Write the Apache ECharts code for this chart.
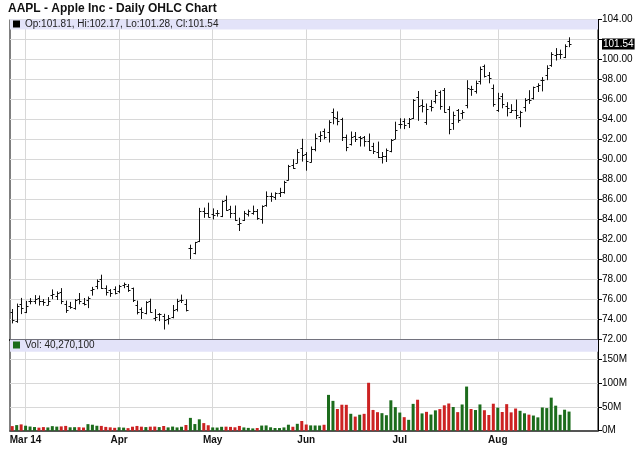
<!DOCTYPE html>
<html><head><meta charset="utf-8">
<script src="https://cdn.jsdelivr.net/npm/echarts@6/dist/echarts.min.js"></script>
<style>html,body{margin:0;padding:0;background:#fff;}#c{width:640px;height:468px;}</style>
</head><body><div id="c"></div>
<script>
const dates = [
'2014-02-26','2014-02-27','2014-02-28',
'2014-03-03','2014-03-04','2014-03-05','2014-03-06','2014-03-07','2014-03-10','2014-03-11','2014-03-12','2014-03-13','2014-03-14','2014-03-17','2014-03-18','2014-03-19','2014-03-20','2014-03-21','2014-03-24','2014-03-25','2014-03-26','2014-03-27','2014-03-28','2014-03-31',
'2014-04-01','2014-04-02','2014-04-03','2014-04-04','2014-04-07','2014-04-08','2014-04-09','2014-04-10','2014-04-11','2014-04-14','2014-04-15','2014-04-16','2014-04-17','2014-04-21','2014-04-22','2014-04-23','2014-04-24','2014-04-25','2014-04-28','2014-04-29','2014-04-30',
'2014-05-01','2014-05-02','2014-05-05','2014-05-06','2014-05-07','2014-05-08','2014-05-09','2014-05-12','2014-05-13','2014-05-14','2014-05-15','2014-05-16','2014-05-19','2014-05-20','2014-05-21','2014-05-22','2014-05-23','2014-05-27','2014-05-28','2014-05-29','2014-05-30',
'2014-06-02','2014-06-03','2014-06-04','2014-06-05','2014-06-06','2014-06-09','2014-06-10','2014-06-11','2014-06-12','2014-06-13','2014-06-16','2014-06-17','2014-06-18','2014-06-19','2014-06-20','2014-06-23','2014-06-24','2014-06-25','2014-06-26','2014-06-27','2014-06-30',
'2014-07-01','2014-07-02','2014-07-03','2014-07-07','2014-07-08','2014-07-09','2014-07-10','2014-07-11','2014-07-14','2014-07-15','2014-07-16','2014-07-17','2014-07-18','2014-07-21','2014-07-22','2014-07-23','2014-07-24','2014-07-25','2014-07-28','2014-07-29','2014-07-30','2014-07-31',
'2014-08-01','2014-08-04','2014-08-05','2014-08-06','2014-08-07','2014-08-08','2014-08-11','2014-08-12','2014-08-13','2014-08-14','2014-08-15','2014-08-18','2014-08-19','2014-08-20','2014-08-21','2014-08-22','2014-08-25'
];
const opens = [
74.74,73.88,75.58,
74.77,75.86,75.85,76.11,75.87,75.48,76.49,76.36,76.78,75.54,75.39,75.13,76.04,75.70,75.99,76.92,77.36,78.07,77.15,76.90,77.03,
76.82,77.48,77.34,77.12,75.43,75.03,74.66,75.81,74.14,74.56,74.32,74.01,74.29,75.05,75.97,75.58,81.18,80.65,81.83,84.82,84.66,
84.57,84.62,84.31,85.97,85.04,84.61,83.51,83.93,84.57,84.64,84.84,84.09,85.41,86.36,86.26,86.66,86.75,87.98,89.43,89.69,91.14,
90.57,89.78,91.06,92.31,92.84,92.70,94.73,94.13,94.04,92.20,91.51,92.31,92.27,92.29,91.85,91.32,90.75,90.21,90.37,90.82,92.10,
93.52,93.87,93.67,94.14,96.27,95.44,93.76,95.36,95.86,96.80,96.97,95.03,93.62,94.99,94.68,95.42,97.04,96.85,97.82,99.33,98.44,97.16,
94.90,96.37,95.36,94.75,94.93,94.26,95.27,96.04,96.15,97.33,97.90,98.49,99.41,100.44,100.57,100.29,101.81
];
const highs = [
75.00,75.54,76.11,
75.81,76.09,76.39,76.35,75.99,76.19,76.96,76.76,77.09,75.84,75.71,75.99,76.60,76.10,76.25,77.21,77.96,78.43,77.36,76.99,77.26,
77.41,77.64,77.50,77.14,75.84,75.16,75.78,76.03,74.99,74.59,74.52,74.40,75.40,76.02,76.44,75.97,81.43,81.71,85.11,85.14,85.63,
85.06,84.90,85.86,86.34,85.32,85.35,84.13,84.81,84.94,85.34,85.00,85.36,86.76,86.63,86.67,87.12,87.82,89.41,89.98,90.98,92.02,
90.69,91.25,92.55,92.77,93.04,93.88,95.05,94.76,94.12,92.44,92.75,92.70,92.29,92.30,92.55,91.62,91.74,90.70,91.05,92.00,93.73,
94.07,94.06,94.10,95.99,96.80,95.95,95.55,95.89,96.89,96.85,97.10,95.28,94.74,95.00,94.89,97.88,97.32,97.84,99.24,99.44,98.70,97.45,
96.62,96.58,95.68,95.48,95.95,94.82,96.08,96.88,97.24,97.57,98.19,99.37,100.68,101.09,100.94,101.47,102.17
];
const lows = [
73.66,73.72,74.59,
74.69,75.57,75.59,75.44,75.43,75.48,76.08,76.00,75.59,74.71,75.12,75.03,75.57,75.46,75.19,76.44,77.08,77.10,76.45,76.32,76.56,
76.68,77.18,76.81,75.80,74.56,74.10,74.57,74.74,73.89,73.89,73.05,73.55,74.17,74.85,75.70,74.86,80.10,80.57,81.79,84.22,84.26,
84.06,84.34,84.29,84.92,84.19,83.91,82.90,83.90,84.35,84.53,84.02,83.63,85.33,85.82,86.01,86.30,86.64,87.95,89.11,89.68,89.84,
88.93,89.75,90.87,91.80,92.07,91.75,93.57,93.47,91.90,90.88,91.45,91.80,91.35,91.34,90.90,90.60,90.19,89.65,89.80,90.77,92.09,
93.13,93.09,93.20,94.10,93.92,94.76,93.52,94.86,95.65,95.03,94.74,92.57,93.02,93.72,94.12,95.17,96.42,96.64,97.55,98.25,97.67,95.33,
94.81,95.17,94.36,94.71,94.10,93.28,94.84,95.61,96.04,96.80,96.86,97.98,99.32,99.95,100.11,100.19,101.28
];
const closes = [
73.91,75.38,75.18,
75.39,75.89,76.05,75.82,75.78,75.85,76.58,76.66,75.81,74.96,75.25,75.91,75.89,75.53,76.12,77.03,77.86,77.11,76.78,76.69,76.68,
77.38,77.51,76.97,75.97,74.78,74.78,75.76,74.78,74.23,74.53,73.99,74.14,74.99,75.88,75.96,74.96,81.11,81.71,84.87,84.62,84.30,
84.50,84.65,85.85,84.92,84.62,84.00,83.65,84.69,84.82,84.84,84.12,85.36,86.37,86.39,86.62,86.75,87.73,89.38,89.14,90.77,90.43,
89.81,91.08,92.12,92.48,92.22,93.70,94.25,93.86,92.29,91.28,92.20,92.08,92.18,91.86,90.91,90.83,90.28,90.36,90.90,91.98,92.93,
93.52,93.48,94.03,95.97,95.35,95.39,95.04,95.22,96.45,95.32,94.78,93.09,94.43,93.94,94.72,97.19,97.03,97.67,99.02,98.38,98.15,95.60,
96.13,95.59,95.12,94.96,94.48,94.74,95.99,95.97,97.24,97.50,97.98,99.16,100.53,100.57,100.58,101.32,101.54
];
// volume in millions of shares
const volumes = [
9.7,11.8,13.3,
10.5,8.8,7.7,6.5,7.6,6.9,9.6,8.6,9.1,10.1,7.2,7.4,7.4,6.7,13.8,12.6,10.4,10.1,8.0,7.1,6.1,
7.2,6.5,5.4,8.4,10.0,8.5,7.6,8.5,8.7,7.6,9.9,7.0,8.7,6.9,8.3,12.0,27.0,14.0,24.0,16.0,11.5,
6.9,6.6,8.2,8.5,8.0,7.2,10.0,6.9,5.9,4.8,5.7,10.8,11.1,7.2,5.7,5.6,6.9,12.6,8.3,14.5,20.4,
13.0,11.2,11.0,10.9,12.5,75.4,62.8,45.7,54.7,54.5,35.6,29.7,33.6,35.5,100.9,43.7,39.0,36.9,32.6,64.0,49.6,
38.2,28.5,22.9,56.5,65.2,36.4,39.7,34.0,42.8,45.5,53.4,57.3,49.9,39.1,55.2,92.9,45.7,43.5,55.3,43.1,33.0,56.8,
48.5,39.4,55.9,38.6,46.7,41.9,36.6,33.8,31.9,28.1,48.9,47.6,69.6,52.7,33.5,44.2,40.2701
];
const tickDates = ['2014-03-03','2014-04-01','2014-05-01','2014-06-02','2014-07-01','2014-08-01'];
const tickLabels = ['Mar 14','Apr','May','Jun','Jul','Aug'];
const chartTitle = 'AAPL - Apple Inc - Daily OHLC Chart';

const FONT = '"Liberation Sans", Arial, Helvetica, sans-serif';
const UP = '#1c6c1c', DOWN = '#cc2222';
const n = dates.length, last = n - 1;
const padBars = 6;
const isTick = (idx, val) => tickDates.indexOf(val) >= 0;
const priceName = 'Op:' + opens[last].toFixed(2) + ', Hi:' + highs[last].toFixed(2) +
  ', Lo:' + lows[last].toFixed(2) + ', Cl:' + closes[last].toFixed(2);
const volName = 'Vol: ' + Math.round(volumes[last] * 1e6).toLocaleString('en-US');
const ohlcData = dates.map((d, i) => [i, opens[i], highs[i], lows[i], closes[i]]);
const volData = volumes.map((v, i) => ({
  value: v,
  itemStyle: { color: closes[i] > (i ? closes[i - 1] : opens[i]) ? UP : DOWN }
}));

const chart = echarts.init(document.getElementById('c'), null, { renderer: 'canvas' });
const gridLine = { color: '#d8d8d8', width: 1 };
const xBase = (gi) => ({
  type: 'category', gridIndex: gi, data: dates, max: last + padBars, boundaryGap: true,
  axisTick: { show: false },
  splitLine: { show: true, interval: isTick, alignWithLabel: true, lineStyle: gridLine }
});
chart.setOption({
  animation: false,
  backgroundColor: '#ffffff',
  textStyle: { fontFamily: FONT },
  title: {
    text: chartTitle, left: 8, top: 3, padding: 0,
    textStyle: { fontSize: 12, fontWeight: 'bold', color: '#111', fontFamily: FONT }
  },
  legend: [
    { left: 13, top: 19, padding: 0, itemWidth: 7, itemHeight: 7, selectedMode: false,
      textStyle: { fontSize: 10, color: '#222', fontFamily: FONT },
      data: [{ name: priceName, icon: 'rect', itemStyle: { color: '#000' } }] },
    { left: 13, top: 340, padding: 0, itemWidth: 7, itemHeight: 7, selectedMode: false,
      textStyle: { fontSize: 10, color: '#222', fontFamily: FONT },
      data: [{ name: volName, icon: 'rect', itemStyle: { color: UP } }] }
  ],
  grid: [
    { left: 10, right: 42, top: 19.5, height: 320, show: true, borderColor: '#000', borderWidth: 1 },
    { left: 10, right: 42, top: 339.5, height: 91.2, show: true, borderColor: '#000', borderWidth: 1 }
  ],
  xAxis: [
    Object.assign(xBase(0), {
      axisLine: { show: true, lineStyle: { color: '#000', width: 2 } },
      axisLabel: { show: false }
    }),
    Object.assign(xBase(1), {
      axisLine: { show: true, lineStyle: { color: '#555', width: 2 } },
      axisLabel: { show: true, interval: isTick, margin: 5, fontSize: 10, fontWeight: 'bold',
        color: '#111', fontFamily: FONT,
        formatter: (v) => tickLabels[tickDates.indexOf(v)] }
    })
  ],
  yAxis: [
    { type: 'value', gridIndex: 0, position: 'right', min: 72, max: 104, interval: 2,
      axisLine: { show: true, lineStyle: { color: '#000', width: 1 } },
      axisTick: { show: true, length: 4, lineStyle: { color: '#000' } },
      axisLabel: { fontSize: 10, color: '#000', margin: 4, fontFamily: FONT,
        formatter: (v) => Math.abs(v - closes[last]) < 1 ? '' : v.toFixed(2) },
      splitLine: { show: true, lineStyle: gridLine } },
    { type: 'value', gridIndex: 1, position: 'right', min: 0, max: 192, interval: 50,
      axisLine: { show: true, lineStyle: { color: '#000', width: 1 } },
      axisTick: { show: true, length: 4, lineStyle: { color: '#000' } },
      axisLabel: { fontSize: 10, color: '#000', margin: 4, fontFamily: FONT, showMaxLabel: false,
        formatter: (v) => v + 'M' },
      splitLine: { show: true, showMaxLine: false, lineStyle: gridLine } }
  ],
  series: [
    {
      name: priceName, type: 'custom', xAxisIndex: 0, yAxisIndex: 0, clip: true,
      data: ohlcData, encode: { x: 0, y: [1, 2, 3, 4] },
      renderItem: function (params, api) {
        const i = api.value(0);
        const o = api.coord([i, api.value(1)]);
        const h = api.coord([i, api.value(2)]);
        const l = api.coord([i, api.value(3)]);
        const c = api.coord([i, api.value(4)]);
        const x = Math.round(h[0]) + 0.5;
        const st = { stroke: '#111', lineWidth: 1 };
        return { type: 'group', children: [
          { type: 'line', shape: { x1: x, y1: h[1] - 0.5, x2: x, y2: l[1] + 0.5 }, style: st },
          { type: 'line', shape: { x1: x - 2, y1: Math.round(o[1]) + 0.5, x2: x, y2: Math.round(o[1]) + 0.5 }, style: st },
          { type: 'line', shape: { x1: x, y1: Math.round(c[1]) + 0.5, x2: x + 2, y2: Math.round(c[1]) + 0.5 }, style: st }
        ] };
      },
      markArea: { silent: true, itemStyle: { color: '#e3e3f9' }, data: [[{ yAxis: 103 }, { yAxis: 104 }]] },
      markLine: {
        silent: true, symbol: 'none', animation: false,
        lineStyle: { color: 'rgba(0,0,0,0)', width: 0, type: 'solid' },
        label: { show: true, position: 'end', distance: 4, formatter: closes[last].toFixed(2),
          backgroundColor: '#000', color: '#fff', fontSize: 10, fontFamily: FONT, padding: [1, 1, 0, 1] },
        data: [{ yAxis: closes[last] }]
      }
    },
    {
      name: volName, type: 'bar', xAxisIndex: 1, yAxisIndex: 1, barWidth: 3,
      data: volData,
      markArea: { silent: true, itemStyle: { color: '#e3e3f9' }, data: [[{ yAxis: 166 }, { yAxis: 192 }]] }
    }
  ]
});
</script>
</body></html>
